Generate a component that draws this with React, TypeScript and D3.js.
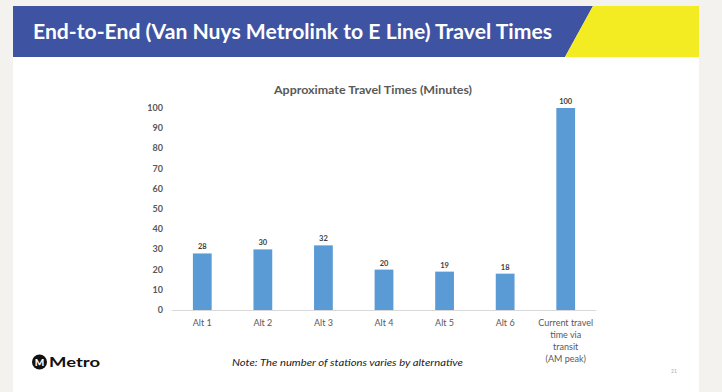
import React from "react";
import * as d3 from "d3";

const categories = ["Alt 1", "Alt 2", "Alt 3", "Alt 4", "Alt 5", "Alt 6", "Current travel time via transit (AM peak)"];
const categoryLines = [["Alt 1"], ["Alt 2"], ["Alt 3"], ["Alt 4"], ["Alt 5"], ["Alt 6"], ["Current travel", "time via", "transit", "(AM peak)"]];
const values = [28, 30, 32, 20, 19, 18, 100];
const yTicks = [0, 10, 20, 30, 40, 50, 60, 70, 80, 90, 100];

const W = 722;
const H = 392;
const FONT = "Lato, 'Open Sans', sans-serif";

export default function App() {
  const x = d3.scaleBand<string>().domain(categories).range([172, 596]).paddingInner(0.69).paddingOuter(0.345);
  const y = d3.scaleLinear().domain([0, 100]).range([310, 108]);
  const bw = x.bandwidth();
  return (
    <svg width={W} height={H} style={{ position: "absolute", left: 0, top: 0, display: "block" }}>
      <rect x={0} y={0} width={W} height={H} fill="#f3f2ef" />
      <rect x={13} y={0} width={686} height={H} fill="#ffffff" />
      <rect x={0} y={0} width={W} height={6} fill="#f3f2ef" />
      {/* banner */}
      <polygon points="13,6 593,6 565,57 13,57" fill="#3e54a3" />
      <polygon points="593,6 699,6 699,57 565,57" fill="#f4ec23" />
      <text x={33} y={39} fontFamily={FONT} fontWeight={700} fontSize={20} fill="#ffffff" textLength={519} lengthAdjust="spacingAndGlyphs">
        End-to-End (Van Nuys Metrolink to E Line) Travel Times
      </text>
      {/* chart title */}
      <text x={274} y={94} fontFamily={FONT} fontWeight={700} fontSize={12} fill="#595959" textLength={198} lengthAdjust="spacingAndGlyphs">
        Approximate Travel Times (Minutes)
      </text>
      {/* y ticks */}
      {yTicks.map((t) => (
        <text key={t} x={163} y={y(t) + 3} textAnchor="end" fontFamily={FONT} fontWeight={700} fontSize={9} fill="#595959">
          {t}
        </text>
      ))}
      {/* axis line */}
      <line x1={172} x2={596} y1={310.5} y2={310.5} stroke="#d9d9d9" strokeWidth={1} />
      {/* bars */}
      {categories.map((c, i) => (
        <g key={c}>
          <rect x={x(c)} y={y(values[i])} width={bw} height={y(0) - y(values[i])} fill="#5b9bd5" />
          <text x={(x(c) as number) + bw / 2} y={y(values[i]) - 4} textAnchor="middle" fontFamily={FONT} fontWeight={700} fontSize={7.5} fill="#404040">
            {values[i]}
          </text>
          {categoryLines[i].map((line, j) => (
            <text key={j} x={(x(c) as number) + bw / 2} y={326 + j * 12} textAnchor="middle" fontFamily={FONT} fontSize={9} fill="#595959">
              {line}
            </text>
          ))}
        </g>
      ))}
      {/* note */}
      <text x={232} y={366} fontFamily={FONT} fontStyle="italic" fontSize={9.5} fill="#1a1a1a" textLength={231} lengthAdjust="spacingAndGlyphs">
        Note: The number of stations varies by alternative
      </text>
      {/* Metro logo */}
      <circle cx={39.5} cy={362} r={7.5} fill="#111111" />
      <text x={39.5} y={366} textAnchor="middle" fontFamily={FONT} fontWeight={900} fontSize={10} fill="#ffffff">M</text>
      <text x={49} y={367} fontFamily={FONT} fontWeight={700} fontSize={14} fill="#111111" textLength={51} lengthAdjust="spacingAndGlyphs">Metro</text>
      <text x={674} y={373} textAnchor="middle" fontFamily={FONT} fontSize={5} fill="#aaaaaa">21</text>
    </svg>
  );
}
